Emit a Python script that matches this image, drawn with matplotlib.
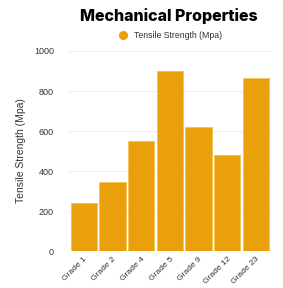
import matplotlib
matplotlib.use('Agg')
import matplotlib.pyplot as plt
from matplotlib.lines import Line2D

grades = ['Grade 1', 'Grade 2', 'Grade 4', 'Grade 5', 'Grade 9', 'Grade 12', 'Grade 23']
tensile = [240, 345, 550, 900, 620, 480, 865]
yticks = [0, 200, 400, 600, 800, 1000]

bar_color = '#E9A00A'

plt.rcParams['font.family'] = ['Liberation Sans', 'DejaVu Sans']

fig = plt.figure(figsize=(2.83, 2.88), dpi=100)
ax = fig.add_axes([0.24, 0.128, 0.72, 0.695])

ax.bar(grades, tensile, width=0.92, color=bar_color, edgecolor='#F2C255',
       linewidth=0.6, zorder=3)

ax.set_ylim(0, 1000)
ax.set_yticks(yticks)
ax.set_xlim(-0.55, len(grades) - 0.45)
ax.grid(axis='y', color='#EBEBEB', linewidth=0.6, zorder=0)
for s in ax.spines.values():
    s.set_visible(False)
ax.tick_params(axis='both', length=0, labelsize=6.5, labelcolor='#333333')
ax.tick_params(axis='x', labelsize=6.1, pad=3)
ax.tick_params(axis='y', pad=10)
plt.setp(ax.get_xticklabels(), rotation=45, ha='right', rotation_mode='anchor')
ax.set_ylabel('Tensile Strength (Mpa)', fontsize=7.5, color='#333333', labelpad=6)

fig.text(0.595, 0.945, 'Mechanical Properties', ha='center', va='center',
         fontsize=11.5, fontweight='heavy', family=['Inter', 'DejaVu Sans'])
handle = Line2D([], [], marker='o', linestyle='', markersize=5.5,
                color=bar_color)
fig.legend([handle], ['Tensile Strength (Mpa)'], loc='center',
           bbox_to_anchor=(0.595, 0.878), frameon=False, fontsize=6.3,
           handletextpad=0.2, labelcolor='#333333')

fig.savefig('out.png', dpi=100)
